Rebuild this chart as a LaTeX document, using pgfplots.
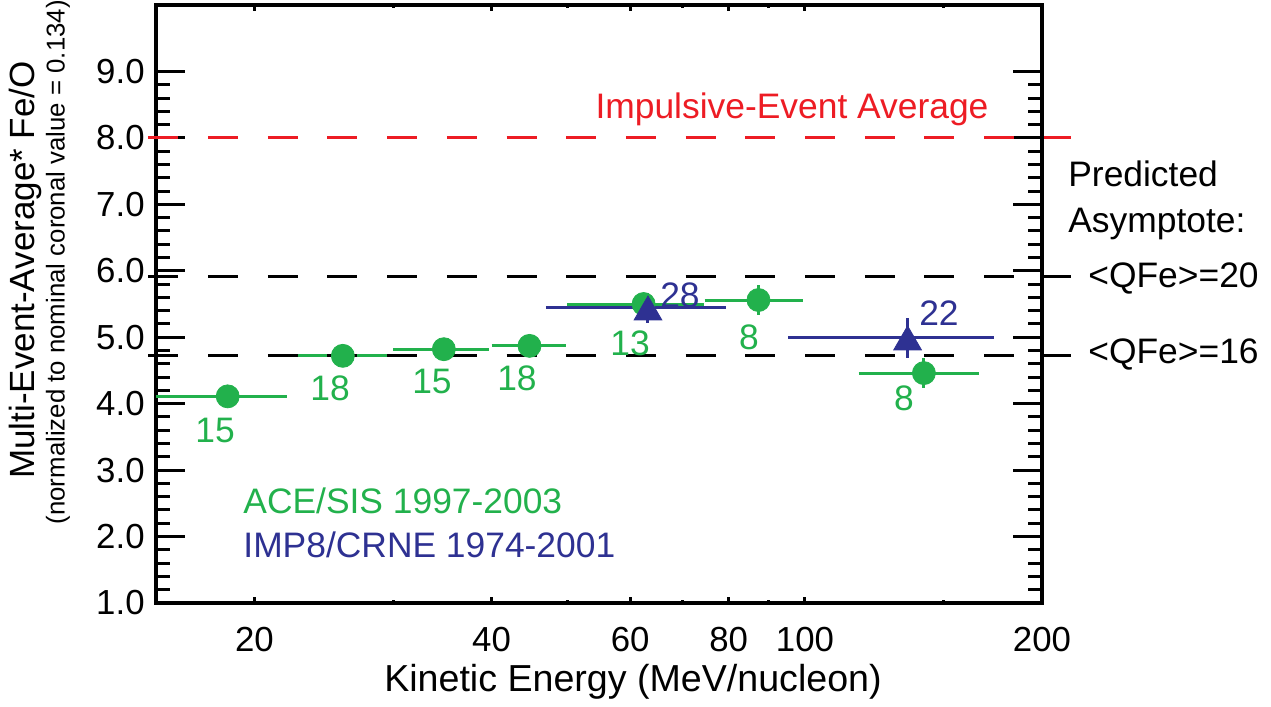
\documentclass[border=0pt]{standalone}
\usepackage{fontspec}
\setmainfont{Liberation Sans}
\usepackage{pgfplots}
\pgfplotsset{compat=1.18}
\definecolor{cgreen}{RGB}{34,177,76}
\definecolor{cblue}{RGB}{46,49,146}
\definecolor{cred}{RGB}{237,28,36}
\newcommand{\fsA}{\fontsize{17.7}{20}\selectfont}
\newcommand{\fsT}{\fontsize{17.4}{20}\selectfont}
\newcommand{\fsL}{\fontsize{18.8}{22}\selectfont}
\newcommand{\fsY}{\fontsize{17.5}{20}\selectfont}
\newcommand{\fsS}{\fontsize{12.9}{15}\selectfont}
\begin{document}
\begin{tikzpicture}
\useasboundingbox (-78pt,-52pt) rectangle (557.5pt,301.5pt);
\begin{axis}[
  scale only axis, width=443pt, height=299pt,
  xmode=log, xmin=15, xmax=200, ymin=1, ymax=10,
  clip=false,
  axis line style={line width=2pt},
  tick align=inside, tick pos=both,
  every tick/.style={black, line width=1.5pt},
  major tick length=14.5pt, minor tick length=7pt,
  xtick={20,40,60,80,200}, xticklabels={20,40,60,80,200},
  minor xtick={30,50,70,90,150},
  extra x ticks={100}, extra x tick labels={100},
  xtick style={/pgfplots/major tick length=3.2pt,/pgfplots/minor tick length=1.7pt},
  extra x tick style={/pgfplots/major tick length=6pt},
  ytick={1,2,...,9}, minor y tick num=4,
  /pgf/number format/assume math mode=true,
  tick label style={font=\fsT},
  yticklabel style={anchor=east, inner sep=0pt, xshift=-5.5pt,
    /pgf/number format/fixed, /pgf/number format/fixed zerofill, /pgf/number format/precision=1},
  xticklabel style={anchor=base, inner sep=0pt, yshift=-24.5pt},
  unbounded coords=jump,
]
% ACE/SIS horizontal bars
\addplot[cgreen, line width=1.5pt] coordinates {
 (15,4.11) (22.0,4.11) (nan,nan)
 (22.0,4.72) (29.5,4.72) (nan,nan)
 (30.0,4.82) (39.7,4.82) (nan,nan)
 (40.0,4.87) (49.8,4.87) (nan,nan)
 (49.9,5.50) (74.4,5.50) (nan,nan)
 (74.6,5.56) (99.4,5.56) (nan,nan)
 (117.0,4.46) (166.5,4.46)
};
% ACE/SIS vertical error bars
\addplot[cgreen, line width=1.5pt] coordinates {
 (87.3,5.34) (87.3,5.78) (nan,nan)
 (141.6,4.24) (141.6,4.68)
};
\addplot[only marks, mark=*, mark size=5.75pt, mark options={draw=cgreen, fill=cgreen}] coordinates {
 (18.5,4.11) (25.9,4.72) (34.8,4.82) (44.7,4.87) (62.4,5.50) (87.3,5.56) (141.6,4.46)
};
% IMP8/CRNE
\addplot[cblue, line width=1.5pt] coordinates {
 (46.9,5.44) (79.3,5.44) (nan,nan)
 (95.3,4.99) (173.6,4.99) (nan,nan)
 (63.2,5.22) (63.2,5.66) (nan,nan)
 (135,4.69) (135,5.29)
};
\addplot[only marks, mark=triangle*, mark size=8pt, mark options={draw=cblue, fill=cblue, yshift=-2pt}] coordinates {
 (63.2,5.44) (135,4.99)
};
% reference lines
\addplot[cred, line width=1.6pt, dash pattern=on 15pt off 14.85pt] coordinates {(14.67,8) (217.7,8)};
\addplot[black, line width=1.6pt, dash pattern=on 15pt off 14.85pt] coordinates {(14.67,5.91) (217.7,5.91)};
\addplot[black, line width=1.6pt, dash pattern=on 15pt off 14.85pt] coordinates {(14.67,4.72) (217.7,4.72)};
% texts
\node[cred, font=\fsA, anchor=base, inner sep=0pt] at (rel axis cs:0.7178,0.811) {Impulsive-Event Average};
\node[cgreen, font=\fsA, anchor=base west, inner sep=0pt] at (rel axis cs:0.0982,0.1505) {ACE/SIS 1997-2003};
\node[cblue, font=\fsA, anchor=base west, inner sep=0pt] at (rel axis cs:0.0982,0.0753) {IMP8/CRNE 1974-2001};
\node[font=\fsA, anchor=base west, inner sep=0pt] at (rel axis cs:1.0293,0.6957) {Predicted};
\node[font=\fsA, anchor=base west, inner sep=0pt] at (rel axis cs:1.0293,0.6204) {Asymptote:};
\node[font=\fsA, anchor=base west, inner sep=0pt] at (rel axis cs:1.0519,0.5268) {<QFe>=20};
\node[font=\fsA, anchor=base west, inner sep=0pt] at (rel axis cs:1.0519,0.4013) {<QFe>=16};
% counts
\node[cgreen, font=\fsA, inner sep=0pt] at (rel axis cs:0.0666,0.2893) {15};
\node[cgreen, font=\fsA, inner sep=0pt] at (rel axis cs:0.1964,0.3595) {18};
\node[cgreen, font=\fsA, inner sep=0pt] at (rel axis cs:0.3115,0.3696) {15};
\node[cgreen, font=\fsA, inner sep=0pt] at (rel axis cs:0.4074,0.3763) {18};
\node[cgreen, font=\fsA, inner sep=0pt] at (rel axis cs:0.5350,0.4348) {13};
\node[cblue, font=\fsA, inner sep=0pt] at (rel axis cs:0.5914,0.5151) {28};
\node[cgreen, font=\fsA, inner sep=0pt] at (rel axis cs:0.6693,0.4448) {8};
\node[cblue, font=\fsA, inner sep=0pt] at (rel axis cs:0.8837,0.4850) {22};
\node[cgreen, font=\fsA, inner sep=0pt] at (rel axis cs:0.8442,0.3428) {8};
\end{axis}
% axis labels (axis box south-west corner is at the origin)
\node[font=\fsL, anchor=base, inner sep=0pt] at (238.5pt,-44.5pt) {Kinetic Energy (MeV/nucleon)};
\node[font=\fsY, rotate=90, inner sep=0pt] at (-65.5pt,166.5pt) {Multi-Event-Average* Fe/O};
\node[font=\fsS, rotate=90, inner sep=0pt] at (-49pt,170.4pt) {(normalized to nominal coronal value = 0.134)};
\end{tikzpicture}
\end{document}
